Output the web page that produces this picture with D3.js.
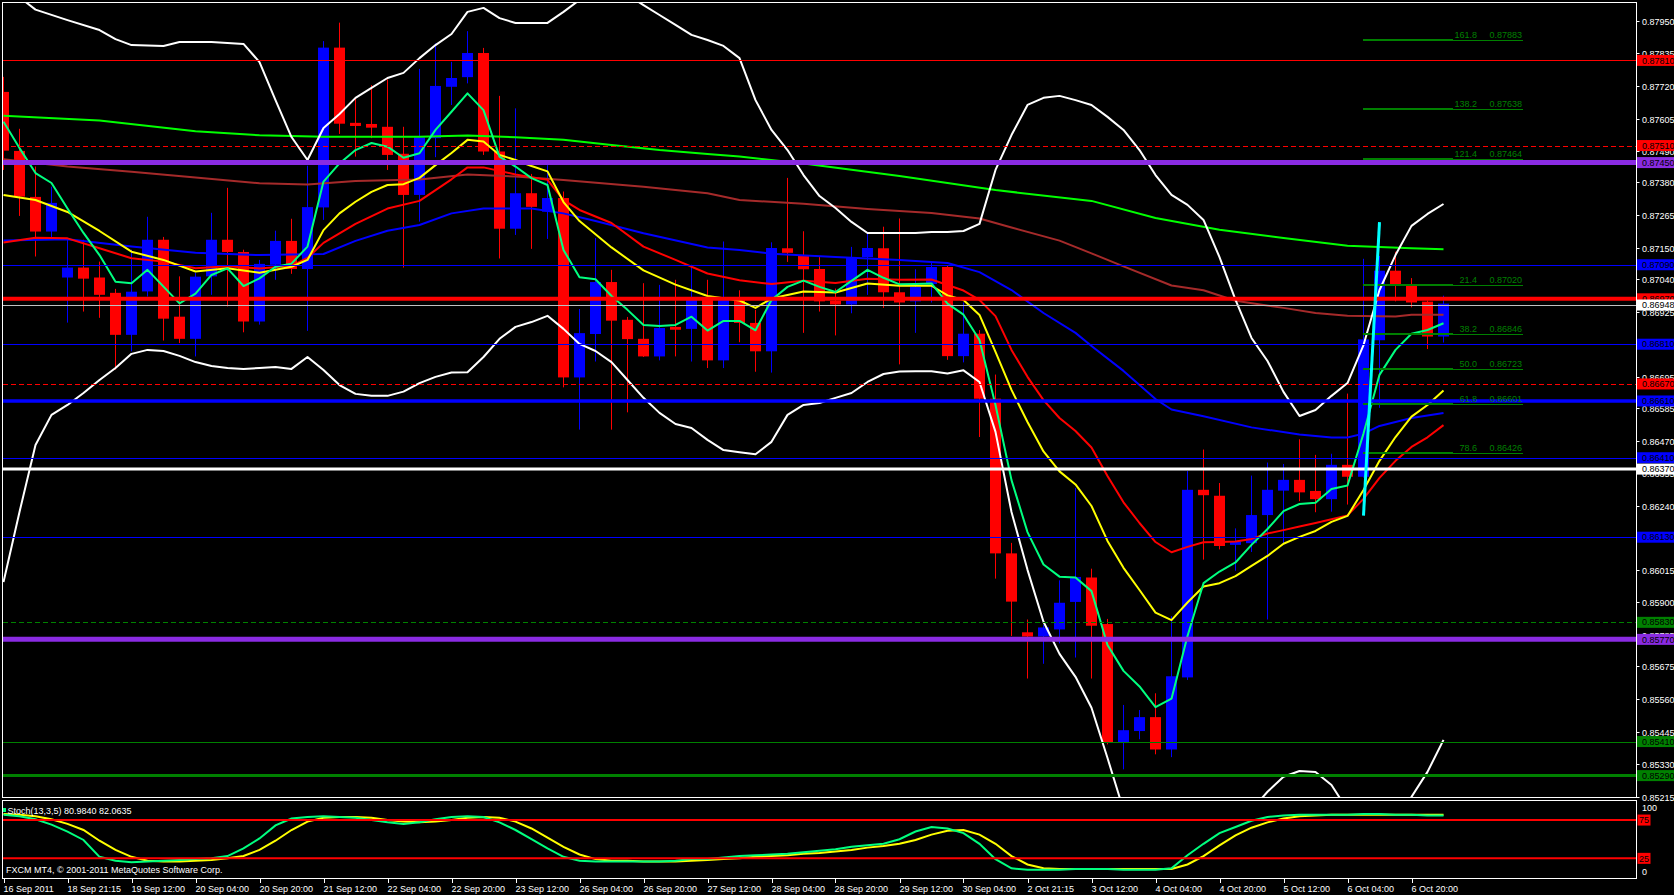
<!DOCTYPE html>
<html><head><meta charset="utf-8">
<script src="https://cdn.jsdelivr.net/npm/d3@7"></script>
<style>html,body{margin:0;padding:0;background:#000;overflow:hidden}text{font-family:"Liberation Sans",Arial,sans-serif;font-size:9px}</style>
</head><body><svg id="c" width="1674" height="895"></svg>
<script>
// ---------------- DATA ----------------
const open=[0.87699,0.87491,0.87329,0.87207,0.87045,0.87080,0.87045,0.86991,0.86843,0.86996,0.87178,0.86907,0.86829,0.87049,0.87178,0.87135,0.86890,0.87090,0.87174,0.87075,0.87292,0.87855,0.87590,0.87586,0.87576,0.87481,0.87336,0.87536,0.87717,0.87751,0.87836,0.87489,0.87217,0.87342,0.87277,0.87325,0.86693,0.86846,0.87029,0.86896,0.86829,0.86767,0.86871,0.86864,0.86969,0.86753,0.86965,0.86885,0.86785,0.87148,0.87123,0.87075,0.86963,0.86950,0.87117,0.87148,0.86993,0.86961,0.87022,0.87082,0.86768,0.86847,0.86618,0.86073,0.85795,0.85780,0.85805,0.85902,0.85988,0.85824,0.85408,0.85447,0.85496,0.85382,0.85636,0.86297,0.86276,0.86103,0.86109,0.86208,0.86294,0.86332,0.86293,0.86264,0.86385,0.86343,0.86824,0.87069,0.87016,0.86960,0.86837];
const high=[0.87752,0.87569,0.87436,0.87365,0.87181,0.87178,0.87101,0.87005,0.87143,0.87259,0.87188,0.87049,0.87062,0.87273,0.87361,0.87143,0.87107,0.87210,0.87252,0.87439,0.87878,0.87943,0.87679,0.87723,0.87743,0.87576,0.87780,0.87870,0.87805,0.87913,0.87854,0.87685,0.87641,0.87410,0.87441,0.87348,0.86934,0.87184,0.87072,0.86906,0.87025,0.87019,0.87037,0.87090,0.87037,0.87172,0.87000,0.86931,0.87169,0.87396,0.87208,0.87117,0.87006,0.87153,0.87199,0.87224,0.87253,0.87074,0.87100,0.87087,0.86957,0.86860,0.86703,0.86110,0.85840,0.85821,0.85978,0.86303,0.86019,0.85842,0.85539,0.85521,0.85580,0.85852,0.86363,0.86439,0.86321,0.86161,0.86347,0.86393,0.86388,0.86475,0.86420,0.86424,0.86636,0.87111,0.87121,0.87136,0.87043,0.86964,0.86981];
const low=[0.87424,0.87262,0.87119,0.87181,0.86886,0.86925,0.86903,0.86720,0.86785,0.86978,0.86823,0.86814,0.86767,0.86984,0.86943,0.86852,0.86879,0.87037,0.87058,0.86857,0.87248,0.87551,0.87471,0.87536,0.87424,0.87080,0.87242,0.87469,0.87653,0.87729,0.87477,0.87112,0.87195,0.87146,0.87181,0.86658,0.86509,0.86749,0.86509,0.86570,0.86765,0.86753,0.86767,0.86749,0.86726,0.86726,0.86817,0.86713,0.86710,0.87100,0.86850,0.86925,0.86841,0.86919,0.86984,0.86938,0.86739,0.86850,0.86957,0.86755,0.86746,0.86483,0.85984,0.85782,0.85632,0.85684,0.85756,0.85706,0.85632,0.85400,0.85312,0.85418,0.85365,0.85355,0.85627,0.86051,0.86087,0.86012,0.86078,0.85840,0.86106,0.86257,0.86218,0.86220,0.86245,0.86340,0.86586,0.86961,0.86940,0.86793,0.86816];
const close=[0.87492,0.87330,0.87207,0.87308,0.87080,0.87041,0.86984,0.86843,0.86995,0.87178,0.86900,0.86829,0.87048,0.87178,0.87135,0.86890,0.87093,0.87174,0.87075,0.87293,0.87855,0.87587,0.87579,0.87573,0.87477,0.87336,0.87539,0.87720,0.87748,0.87836,0.87489,0.87217,0.87342,0.87294,0.87325,0.86693,0.86849,0.87029,0.86893,0.86828,0.86767,0.86867,0.86861,0.86969,0.86753,0.86969,0.86885,0.86785,0.87149,0.87132,0.87074,0.86961,0.86950,0.87117,0.87149,0.86993,0.86957,0.87012,0.87082,0.86768,0.86847,0.86618,0.86073,0.85903,0.85780,0.85812,0.85899,0.85990,0.85818,0.85408,0.85450,0.85496,0.85382,0.85640,0.86297,0.86278,0.86099,0.86115,0.86208,0.86297,0.86332,0.86288,0.86264,0.86385,0.86343,0.86827,0.87069,0.87019,0.86957,0.86837,0.86953];

const timeLabels=["16 Sep 2011","18 Sep 21:15","19 Sep 12:00","20 Sep 04:00","20 Sep 20:00","21 Sep 12:00","22 Sep 04:00","22 Sep 20:00","23 Sep 12:00","26 Sep 04:00","26 Sep 20:00","27 Sep 12:00","28 Sep 04:00","28 Sep 20:00","29 Sep 12:00","30 Sep 04:00","2 Oct 21:15","3 Oct 12:00","4 Oct 04:00","4 Oct 20:00","5 Oct 12:00","6 Oct 04:00","6 Oct 20:00"];
const priceTicks=[0.87950,0.87835,0.87720,0.87605,0.87490,0.87380,0.87265,0.87150,0.87040,0.86925,0.86810,0.86695,0.86585,0.86470,0.86355,0.86240,0.86130,0.86015,0.85900,0.85785,0.85675,0.85560,0.85445,0.85330,0.85215];

// moving averages: [bar index, price]
const maFast=[[0,0.87594],[1,0.87501],[2,0.87413],[3,0.87378],[4,0.87288],[5,0.87202],[6,0.87124],[7,0.87030],[8,0.87025],[9,0.87072],[10,0.87013],[11,0.86954],[12,0.86988],[13,0.87054],[14,0.87077],[15,0.87015],[16,0.87042],[17,0.87083],[18,0.87094],[19,0.87154],[20,0.87383],[21,0.87447],[22,0.87494],[23,0.87519],[24,0.87506],[25,0.87467],[26,0.87483],[27,0.87565],[28,0.87629],[29,0.87694],[30,0.87635],[31,0.87471],[32,0.87436],[33,0.87395],[34,0.87371],[35,0.87142],[36,0.87046],[37,0.87039],[38,0.86980],[39,0.86931],[40,0.86878],[41,0.86874],[42,0.86878],[43,0.86907],[44,0.86858],[45,0.86892],[46,0.86892],[47,0.86859],[48,0.86966],[49,0.87012],[50,0.87034],[51,0.87012],[52,0.86994],[53,0.87033],[54,0.87072],[55,0.87044],[56,0.87021],[57,0.87022],[58,0.87024],[59,0.86953],[60,0.86914],[61,0.86825],[62,0.86596],[63,0.86331],[64,0.86148],[65,0.86034],[66,0.85991],[67,0.85988],[68,0.85940],[69,0.85750],[70,0.85659],[71,0.85604],[72,0.85531],[73,0.85561],[74,0.85782],[75,0.85968],[76,0.86009],[77,0.86041],[78,0.86103],[79,0.86159],[80,0.86222],[81,0.86247],[82,0.86251],[83,0.86300],[84,0.86312],[85,0.86495],[86,0.86702],[87,0.86790],[88,0.86847],[89,0.86860],[90,0.86884]];
const maMid=[[0,0.87336],[2,0.87318],[4,0.87276],[6,0.87209],[8,0.87136],[10,0.87107],[12,0.87066],[14,0.87078],[16,0.87062],[18,0.87083],[19,0.87107],[20,0.87212],[21,0.87271],[22,0.87312],[23,0.87347],[24,0.87371],[25,0.87374],[26,0.87396],[27,0.87441],[28,0.87484],[29,0.87530],[30,0.87524],[31,0.87477],[32,0.87459],[33,0.87438],[34,0.87419],[35,0.87311],[36,0.87244],[38,0.87151],[40,0.87070],[42,0.87020],[44,0.86980],[46,0.86964],[47,0.86938],[48,0.86971],[50,0.86996],[52,0.86992],[54,0.87024],[56,0.87016],[58,0.87016],[59,0.86982],[60,0.86966],[61,0.86913],[62,0.86783],[63,0.86649],[64,0.86536],[65,0.86432],[66,0.86362],[67,0.86316],[68,0.86240],[69,0.86117],[70,0.86022],[71,0.85944],[72,0.85864],[73,0.85838],[74,0.85900],[75,0.85956],[76,0.85968],[77,0.85993],[78,0.86029],[79,0.86064],[80,0.86107],[81,0.86131],[82,0.86152],[83,0.86184],[84,0.86205],[85,0.86296],[86,0.86399],[87,0.86483],[88,0.86555],[89,0.86596],[90,0.86647]];
const maRed=[[0,0.87168],[2,0.87185],[4,0.87183],[6,0.87148],[8,0.87113],[10,0.87101],[12,0.87078],[14,0.87085],[16,0.87077],[18,0.87086],[19,0.87114],[20,0.87167],[22,0.87234],[24,0.87288],[26,0.87315],[28,0.87391],[29,0.87433],[30,0.87433],[32,0.87408],[34,0.87389],[35,0.87318],[36,0.87283],[38,0.87237],[40,0.87154],[42,0.87107],[44,0.87059],[46,0.87035],[48,0.87022],[50,0.87034],[52,0.87026],[54,0.87041],[56,0.87037],[58,0.87038],[60,0.86999],[61,0.86966],[62,0.86909],[63,0.86790],[64,0.86695],[65,0.86613],[66,0.86550],[67,0.86504],[68,0.86446],[69,0.86346],[70,0.86253],[71,0.86180],[72,0.86113],[73,0.86077],[74,0.86096],[75,0.86112],[76,0.86113],[77,0.86115],[78,0.86124],[79,0.86143],[80,0.86155],[81,0.86168],[82,0.86180],[83,0.86193],[84,0.86207],[85,0.86265],[86,0.86339],[87,0.86399],[88,0.86448],[89,0.86482],[90,0.86525]];
const maBlue=[[0,0.87175],[4,0.87180],[8,0.87154],[12,0.87132],[16,0.87124],[20,0.87128],[22,0.87174],[24,0.87210],[26,0.87230],[28,0.87271],[30,0.87288],[33,0.87288],[35,0.87271],[37,0.87244],[40,0.87201],[44,0.87151],[46,0.87142],[48,0.87129],[52,0.87117],[56,0.87107],[59,0.87096],[61,0.87064],[63,0.87001],[65,0.86920],[67,0.86850],[68,0.86804],[70,0.86716],[72,0.86617],[73,0.86580],[75,0.86556],[78,0.86517],[81,0.86492],[83,0.86481],[84,0.86481],[85,0.86495],[86,0.86522],[88,0.86550],[90,0.86568]];
const maBrown=[[0,0.87462],[4,0.87436],[8,0.87418],[12,0.87397],[16,0.87377],[19,0.87373],[22,0.87385],[26,0.87390],[29,0.87408],[32,0.87401],[35,0.87389],[40,0.87365],[44,0.87342],[46,0.87318],[50,0.87305],[54,0.87286],[58,0.87272],[61,0.87253],[63,0.87221],[66,0.87175],[68,0.87130],[70,0.87084],[73,0.87017],[75,0.87000],[77,0.86963],[80,0.86938],[82,0.86920],[84,0.86910],[87,0.86908],[88,0.86914],[90,0.86914]];
const maLime=[[0,0.87615],[6,0.87598],[12,0.87560],[16,0.87546],[20,0.87541],[26,0.87541],[29,0.87545],[32,0.87539],[35,0.87530],[38,0.87512],[41,0.87494],[44,0.87480],[46,0.87471],[50,0.87447],[56,0.87403],[62,0.87353],[68,0.87315],[72,0.87255],[76,0.87213],[80,0.87184],[84,0.87157],[88,0.87148],[90,0.87145]];
const bandUpper=[[0,0.88076],[2,0.87989],[4,0.87952],[6,0.87917],[7,0.87885],[8,0.87864],[10,0.87861],[11,0.87875],[13,0.87875],[15,0.87868],[16,0.87804],[17,0.87670],[18,0.87540],[19,0.87459],[20,0.87572],[21,0.87621],[22,0.87678],[23,0.87713],[24,0.87748],[25,0.87766],[26,0.87818],[27,0.87864],[28,0.87903],[29,0.87981],[30,0.87995],[31,0.87959],[32,0.87942],[33,0.87942],[34,0.87942],[35,0.87981],[36,0.88023],[37,0.88051],[38,0.88058],[39,0.88040],[40,0.88005],[41,0.87970],[42,0.87935],[43,0.87900],[44,0.87882],[45,0.87861],[46,0.87818],[47,0.87670],[48,0.87565],[49,0.87494],[50,0.87406],[51,0.87332],[52,0.87290],[53,0.87241],[54,0.87202],[55,0.87202],[56,0.87202],[57,0.87202],[58,0.87205],[59,0.87205],[60,0.87209],[61,0.87234],[62,0.87424],[63,0.87547],[64,0.87653],[65,0.87678],[66,0.87685],[67,0.87670],[68,0.87653],[69,0.87611],[70,0.87565],[71,0.87494],[72,0.87406],[73,0.87336],[74,0.87301],[75,0.87248],[76,0.87117],[77,0.86966],[78,0.86832],[79,0.86751],[80,0.86642],[81,0.86557],[82,0.86578],[83,0.86628],[84,0.86673],[85,0.86807],[86,0.87001],[87,0.87124],[88,0.87227],[89,0.87269],[90,0.87304]];
const bandLower=[[0,0.85972],[1,0.86219],[2,0.86455],[3,0.86561],[4,0.86596],[5,0.86638],[6,0.86684],[7,0.86726],[8,0.86776],[9,0.86790],[10,0.86786],[11,0.86769],[12,0.86747],[13,0.86733],[14,0.86726],[15,0.86723],[16,0.86726],[17,0.86730],[18,0.86723],[19,0.86765],[20,0.86719],[21,0.86666],[22,0.86635],[23,0.86628],[24,0.86628],[25,0.86643],[26,0.86673],[27,0.86695],[28,0.86710],[29,0.86711],[30,0.86765],[31,0.86829],[32,0.86871],[33,0.86888],[34,0.86910],[35,0.86864],[36,0.86811],[37,0.86786],[38,0.86747],[39,0.86684],[40,0.86621],[41,0.86568],[42,0.86529],[43,0.86515],[44,0.86473],[45,0.86437],[46,0.86429],[47,0.86422],[48,0.86466],[49,0.86561],[50,0.86596],[51,0.86603],[52,0.86621],[53,0.86638],[54,0.86677],[55,0.86705],[56,0.86714],[57,0.86715],[58,0.86715],[59,0.86707],[60,0.86718],[61,0.86677],[62,0.86501],[63,0.86219],[64,0.86015],[65,0.85832],[66,0.85719],[67,0.85638],[68,0.85529],[69,0.85352],[70,0.85169],[71,0.85028],[72,0.84923],[73,0.84887],[74,0.84923],[75,0.84993],[76,0.85063],[77,0.85098],[78,0.85169],[79,0.85233],[80,0.85286],[81,0.85306],[82,0.85303],[83,0.85257],[84,0.85169],[85,0.85098],[86,0.85106],[87,0.85151],[88,0.85215],[89,0.85303],[90,0.85416]];

// horizontal levels
const levelPrices=[0.87810,0.87510,0.87450,0.87090,0.86970,0.86948,0.86810,0.86670,0.86610,0.86410,0.86370,0.86130,0.85830,0.85770,0.85410,0.85290];
// fibonacci
const fibLevels=["161.8","138.2","121.4","21.4","38.2","50.0","61.8","78.6"];
const fibPrices=[0.87883,0.87638,0.87464,0.87020,0.86846,0.86723,0.86601,0.86426];
const fibAnchorBars=[85,86];
const fibAnchorPrices=[0.86206,0.87240];

// stochastic (13,3,5)
const stochK=[82,80,76,69,60,49,27,22,20,21,22,23,24,25,28,38,51,68,77,79,80,79,78,75,72,70,72,76,79,80,79,72,62,50,38,27,22,21,21,21,21,21,22,24,24,26,28,29,30,31,33,35,37,40,42,44,50,60,66,64,58,44,24,12,10,10,10,11,11,11,10,10,10,12,29,44,58,66,74,79,81,82,82,82,82,83,83,82,82,81,81];
const stochD=[83,82,80,76,70,62,48,36,27,22,21,21,22,23,25,28,36,48,62,73,78,79,79,78,75,73,72,73,75,78,79,78,73,64,52,40,30,24,22,22,21,21,21,22,23,24,25,27,28,29,31,32,34,36,39,41,44,49,56,61,62,56,44,28,17,12,11,11,11,11,11,11,11,11,17,28,42,55,65,72,77,80,81,82,82,82,82,82,82,82,82];
const stochLevels=[75,25];
const stochTitle="Stoch(13,3,5) 80.9840 82.0635";
const copyright="FXCM MT4, \u00A9 2001-2011 MetaQuotes Software Corp.";

// ---------------- DRAW ----------------
const W=1674,H=895;
const svg=d3.select('#c');
svg.append('rect').attr('width',W).attr('height',H).attr('fill','#000');
const x=d3.scaleLinear().domain([0,90]).range([3.5,1443.5]);
const y=d3.scaleLinear().domain([0.8781,0.8529]).range([60.4,775.6]);
const ys=d3.scaleLinear().domain([0,100]).range([877.5,800.9]);
const axisX=1636.5;

const defs=svg.append('defs');
defs.append('clipPath').attr('id','cm').append('rect').attr('x',3).attr('y',3).attr('width',1633).attr('height',794);
defs.append('clipPath').attr('id','cs').append('rect').attr('x',3).attr('y',801).attr('width',1633).attr('height',77);

const main=svg.append('g').attr('clip-path','url(#cm)');
const idx=d3.range(open.length);

// candles
const cg=main.append('g');
idx.forEach(i=>{
  const bull=close[i]>=open[i];
  const col=bull?'#0000FF':'#FF0000';
  const cx=x(i);
  cg.append('line').attr('x1',cx).attr('x2',cx).attr('y1',y(high[i])).attr('y2',y(low[i])).attr('stroke',col).attr('stroke-width',1);
  const top=y(Math.max(open[i],close[i])), bot=y(Math.min(open[i],close[i]));
  cg.append('rect').attr('x',cx-5.5).attr('width',11).attr('y',top).attr('height',Math.max(1,bot-top)).attr('fill',col);
});

const line=d3.line().x(d=>x(d[0])).y(d=>y(d[1]));
const series=[[maLime,'#00FF00'],[maBrown,'#A52A2A'],[maBlue,'#0000FF'],[maRed,'#FF0000'],[maMid,'#FFFF00'],[maFast,'#00FF7F'],[bandUpper,'#FFFFFF'],[bandLower,'#FFFFFF']];
series.forEach(([d,c])=>{
  main.append('path').datum(d).attr('d',line).attr('fill','none').attr('stroke',c).attr('stroke-width',2).attr('stroke-linejoin','round');
});

// horizontal levels
const levelStyle=[
 {c:'#FF0000',w:1},{c:'#FF0000',w:1,dash:'5,3'},{c:'#8A2BE2',w:5},{c:'#0000FF',w:1},
 {c:'#FF0000',w:4},{c:'#C0C0C0',w:1,bg:'#FFFFFF'},{c:'#0000FF',w:1},{c:'#FF0000',w:1,dash:'5,3'},
 {c:'#0000FF',w:3.5},{c:'#0000FF',w:1},{c:'#FFFFFF',w:3},{c:'#0000FF',w:1},
 {c:'#008000',w:1,dash:'5,3'},{c:'#8A2BE2',w:5},{c:'#008000',w:1},{c:'#008000',w:3}];
levelPrices.forEach((p,k)=>{
  const s=levelStyle[k];
  const yy=s.w===1?Math.round(y(p))+0.5:y(p);
  main.append('line').attr('x1',3).attr('x2',axisX).attr('y1',yy).attr('y2',yy)
   .attr('stroke',s.c).attr('stroke-width',s.w).attr('stroke-dasharray',s.dash||null);
});

// fib levels
const fibX0=x(fibAnchorBars[0])-0.5, fibX1=x(90)+9.5, fibX2=x(90)+79.5;
fibPrices.forEach((p,k)=>{
  const yy=Math.round(y(p));
  main.append('line').attr('x1',fibX0).attr('x2',fibX1).attr('y1',yy).attr('y2',yy).attr('stroke','#008000').attr('stroke-width',2);
  main.append('line').attr('x1',fibX1).attr('x2',fibX2).attr('y1',yy+0.5).attr('y2',yy+0.5).attr('stroke','#008000').attr('stroke-width',1);
  main.append('text').attr('x',x(90)+33.5).attr('y',yy-2).attr('text-anchor','end').attr('fill','#008000').text(fibLevels[k]);
  main.append('text').attr('x',x(90)+78.5).attr('y',yy-2).attr('text-anchor','end').attr('fill','#008000').text(p.toFixed(5));
});
// fib trend line
main.append('line').attr('x1',x(fibAnchorBars[0])).attr('y1',y(fibAnchorPrices[0])).attr('x2',x(fibAnchorBars[1])).attr('y2',y(fibAnchorPrices[1]))
  .attr('stroke','#00FFFF').attr('stroke-width',3);

// frames
svg.append('rect').attr('x',2.5).attr('y',2.5).attr('width',1634).attr('height',795).attr('fill','none').attr('stroke','#FFFFFF').attr('stroke-width',1);
svg.append('rect').attr('x',2.5).attr('y',800.5).attr('width',1634).attr('height',78).attr('fill','none').attr('stroke','#FFFFFF').attr('stroke-width',1);

// price axis
const ax=svg.append('g');
priceTicks.forEach(p=>{
  const yy=Math.round(y(p))+0.5;
  ax.append('line').attr('x1',axisX).attr('x2',axisX+3).attr('y1',yy).attr('y2',yy).attr('stroke','#FFFFFF');
  ax.append('text').attr('x',1642).attr('y',yy).attr('dy','0.35em').attr('fill','#FFFFFF').text(p.toFixed(5));
});
levelPrices.forEach((p,k)=>{
  const s=levelStyle[k];
  const yy=y(p);
  ax.append('rect').attr('x',axisX+0.5).attr('y',yy-5.5).attr('width',40).attr('height',11).attr('fill',s.bg||s.c);
  ax.append('text').attr('x',1642).attr('y',yy).attr('dy','0.35em').attr('fill','#000').text(p.toFixed(5));
});

// time axis
timeLabels.forEach((t,k)=>{
  const xx=Math.round(x(k*4))+0.5;
  svg.append('line').attr('x1',xx).attr('x2',xx).attr('y1',879).attr('y2',883).attr('stroke','#FFFFFF');
  svg.append('text').attr('x',xx-1).attr('y',888.5).attr('dy','0.35em').attr('fill','#FFFFFF').text(t);
});

// stochastic panel
const st=svg.append('g').attr('clip-path','url(#cs)');
const sl=d3.line().x((d,i)=>x(i)).y(d=>ys(d));
st.append('path').datum(stochD).attr('d',sl).attr('fill','none').attr('stroke','#FFFF00').attr('stroke-width',2);
st.append('path').datum(stochK).attr('d',sl).attr('fill','none').attr('stroke','#00FF7F').attr('stroke-width',2);
stochLevels.forEach(v=>{
  st.append('line').attr('x1',3).attr('x2',axisX).attr('y1',ys(v)).attr('y2',ys(v)).attr('stroke','#FF0000').attr('stroke-width',2);
});
svg.append('rect').attr('x',3).attr('y',808).attr('width',3).attr('height',4).attr('fill','#00FF7F');
svg.append('text').attr('x',7.5).attr('y',810.5).attr('dy','0.35em').attr('fill','#FFFFFF').text(stochTitle);
svg.append('text').attr('x',6).attr('y',870).attr('dy','0.35em').attr('fill','#FFFFFF').text(copyright);
svg.append('text').attr('x',1642).attr('y',807.7).attr('dy','0.35em').attr('fill','#FFFFFF').text('100');
svg.append('text').attr('x',1642).attr('y',871.7).attr('dy','0.35em').attr('fill','#FFFFFF').text('0');
stochLevels.forEach(v=>{
  svg.append('rect').attr('x',axisX+1).attr('y',ys(v)-5.5).attr('width',13).attr('height',11).attr('fill','#FF0000');
  svg.append('text').attr('x',1639).attr('y',ys(v)).attr('dy','0.35em').attr('fill','#000').text(String(v));
});
</script></body></html>
